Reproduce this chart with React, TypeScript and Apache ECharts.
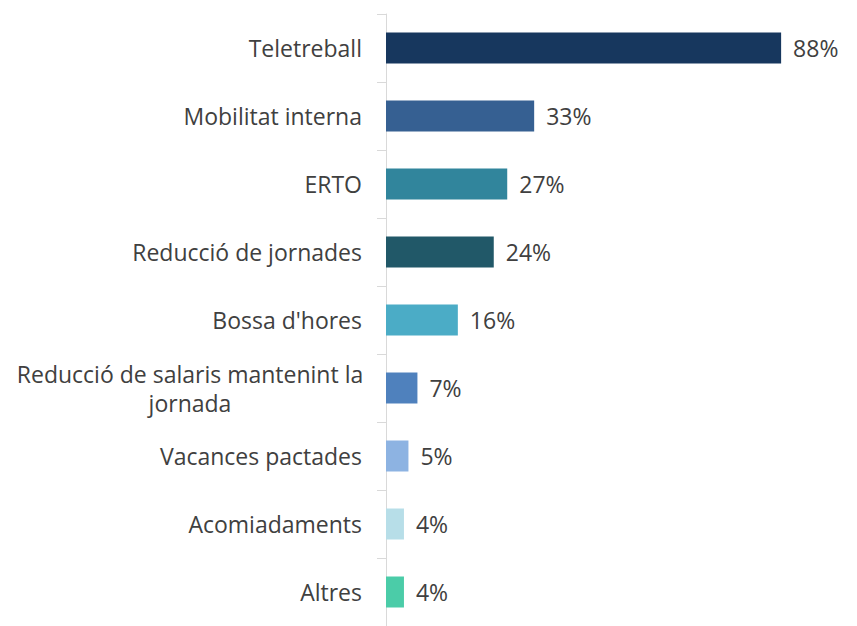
import React, { useEffect, useRef } from "react";
import * as echarts from "echarts";

const categories = [
  "Teletreball",
  "Mobilitat interna",
  "ERTO",
  "Reducció de jornades",
  "Bossa d'hores",
  "Reducció de salaris mantenint la\njornada",
  "Vacances pactades",
  "Acomiadaments",
  "Altres",
];
const values = [88, 33, 27, 24, 16, 7, 5, 4, 4];
const colors = [
  "#17375e",
  "#366092",
  "#31859c",
  "#215868",
  "#4bacc6",
  "#4f81bd",
  "#8db3e2",
  "#b7dee8",
  "#4bcca8",
];

export default function App() {
  const ref = useRef<HTMLDivElement>(null);
  useEffect(() => {
    if (!ref.current) return;
    const chart = echarts.init(ref.current, undefined, { renderer: "svg" });
    chart.setOption({
      animation: false,
      grid: { left: 386, right: 22, top: 14, bottom: -6, containLabel: false },
      xAxis: {
        type: "value",
        min: 0,
        max: 100,
        show: false,
      },
      yAxis: {
        type: "category",
        inverse: true,
        data: categories,
        axisLine: { show: true, lineStyle: { color: "#d9d9d9", width: 1 } },
        axisTick: { show: true, length: 9, lineStyle: { color: "#d9d9d9" } },
        axisLabel: {
          margin: 24,
          color: "#404040",
          fontFamily: "Open Sans",
          fontSize: 23,
          lineHeight: 29,
          formatter: (v: string) => {
            if (v.indexOf("\n") >= 0) {
              return v
                .split("\n")
                .map((s) => "{c|" + s + "}")
                .join("\n");
            }
            return v;
          },
          rich: {
            c: {
              width: 344,
              align: "center",
              color: "#404040",
              fontFamily: "Open Sans",
              fontSize: 23,
              lineHeight: 29,
            },
          },
        },
      },
      series: [
        {
          type: "bar",
          barWidth: 31,
          data: values.map((v, i) => ({
            value: v,
            itemStyle: { color: colors[i] },
          })),
          label: {
            show: true,
            position: "right",
            distance: 12,
            formatter: "{c}%",
            color: "#404040",
            fontFamily: "Open Sans",
            fontSize: 23,
          },
        },
      ],
    });
    return () => chart.dispose();
  }, []);
  return (
    <div
      ref={ref}
      style={{ position: "absolute", left: 0, top: 0, width: 857, height: 626, background: "#fff" }}
    />
  );
}
